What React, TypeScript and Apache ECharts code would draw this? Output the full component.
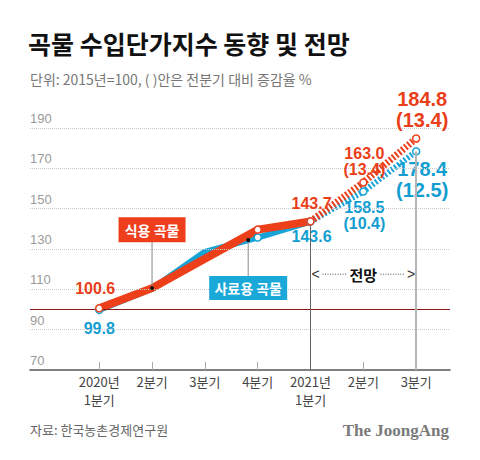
import { useEffect, useRef } from 'react';
import * as echarts from 'echarts';

const categories = ['2020년\n1분기', '2분기', '3분기', '4분기', '2021년\n1분기', '2분기', '3분기'];
const foodValues = [100.6, 110.6, 125.2, 139.6, 143.7, 163.0, 184.8];
const feedValues = [99.8, 110.3, 128.6, 135.7, 143.6, 158.5, 178.4];
const foodChange: (number | null)[] = [null, null, null, null, null, 13.4, 13.4];
const feedChange: (number | null)[] = [null, null, null, null, null, 10.4, 12.5];
const yTicks = [70, 90, 110, 130, 150, 170, 190];
const baseLine = 100;
const forecastStart = 4;
const markerIdx = [0, 3, 4, 5, 6];
const labelIdx = [0, 4, 5, 6];

const RED = '#ec3f1a';
const BLUE = '#17a4d6';
const NUM_FONT = "'Liberation Sans', Arial, sans-serif";
const KR_FONT = "'Noto Sans CJK KR', 'Noto Sans', sans-serif";

const foodOffsets: Record<number, number[]> = { 0: [-4, -20], 4: [1, -18], 5: [1, -21], 6: [6, -29] };
const feedOffsets: Record<number, number[]> = { 0: [0, 19], 4: [1, 15], 5: [1, 24], 6: [6, 28] };

function pts(vals: number[], from: number, to: number) {
  const out: number[][] = [];
  for (let i = from; i <= to; i++) out.push([i, vals[i]]);
  return out;
}

function markerData(vals: number[], change: (number | null)[], offsets: Record<number, number[]>) {
  return markerIdx.map((i) => {
    const c = change[i];
    const big = i === 6;
    return {
      value: [i, vals[i]],
      label: {
        show: labelIdx.includes(i),
        formatter: vals[i].toFixed(1) + (c != null ? '\n(' + c.toFixed(1) + ')' : ''),
        offset: offsets[i] || [0, 0],
        fontSize: big ? 20 : 16,
        lineHeight: big ? 21 : 16,
      },
    };
  });
}

export default function App() {
  const ref = useRef<HTMLDivElement>(null);
  useEffect(() => {
    const chart = echarts.init(ref.current!, null, { renderer: 'svg' });
    const last = categories.length - 1;
    const option: any = {
      animation: false,
      grid: { left: 30, right: 30, top: 128, bottom: 90 },
      xAxis: {
        type: 'value',
        min: -1.31,
        max: 6.64,
        splitLine: { show: false },
        axisLine: { show: true, lineStyle: { color: '#555', width: 1.5 } },
        axisTick: {
          show: true,
          customValues: categories.map((_, i) => i),
          inside: true,
          length: 8,
          lineStyle: { color: '#aaa', width: 1 },
        },
        axisLabel: {
          customValues: categories.map((_, i) => i),
          formatter: (v: number) => categories[Math.round(v)] ?? '',
          fontSize: 13,
          lineHeight: 18,
          color: '#444',
          fontFamily: KR_FONT,
          margin: 2,
        },
      },
      yAxis: {
        type: 'value',
        min: yTicks[0],
        max: yTicks[yTicks.length - 1],
        axisLine: { show: false },
        axisTick: { show: false },
        splitLine: { show: false },
        axisLabel: {
          customValues: yTicks,
          inside: true,
          margin: 0,
          align: 'left',
          verticalAlign: 'bottom',
          padding: [0, 0, 3, 0],
          fontSize: 13,
          color: '#9a9a9a',
          fontFamily: NUM_FONT,
        },
      },
      series: [
        {
          type: 'line',
          data: [],
          z: 1,
          silent: true,
          markLine: {
            silent: true,
            symbol: 'none',
            label: { show: false },
            animation: false,
            data: [
              ...yTicks.slice(1).map((v) => ({
                yAxis: v,
                lineStyle: { type: 'dotted', color: '#c8c8c8', width: 1 },
              })),
              { yAxis: baseLine, lineStyle: { type: 'solid', color: '#8b1a1a', width: 1.2 } },
              [
                { coord: [forecastStart, yTicks[0]], lineStyle: { type: 'solid', color: '#666', width: 1 } },
                { coord: [forecastStart, feedValues[forecastStart]] },
              ],
              [
                { coord: [last, yTicks[0]], lineStyle: { type: 'solid', color: '#b5b5b5', width: 2 } },
                { coord: [last, feedValues[last]] },
              ],
            ],
          },
        },
        {
          name: '사료용 곡물',
          type: 'line',
          data: pts(feedValues, 0, forecastStart),
          showSymbol: false,
          z: 2,
          lineStyle: { color: BLUE, width: 6, opacity: 1 },
        },
        {
          name: '식용 곡물',
          type: 'line',
          data: pts(foodValues, 0, forecastStart),
          showSymbol: false,
          z: 3,
          lineStyle: { color: RED, width: 8, opacity: 1 },
        },
        {
          type: 'line',
          data: pts(feedValues, forecastStart, last),
          showSymbol: false,
          z: 2,
          lineStyle: { color: BLUE, width: 6, type: [2, 2], opacity: 1 },
        },
        {
          type: 'line',
          data: pts(foodValues, forecastStart, last),
          showSymbol: false,
          z: 3,
          lineStyle: { color: RED, width: 7, type: [2, 2], opacity: 1 },
        },
        {
          type: 'scatter',
          z: 4,
          symbol: 'circle',
          symbolSize: 7,
          itemStyle: { color: '#fff', borderColor: BLUE, borderWidth: 1.5, opacity: 1 },
          label: { show: true, position: 'inside', color: '#139ed2', fontWeight: 'bold', fontFamily: NUM_FONT, opacity: 1 },
          data: markerData(feedValues, feedChange, feedOffsets),
        },
        {
          type: 'scatter',
          z: 5,
          symbol: 'circle',
          symbolSize: 7,
          itemStyle: { color: '#fff', borderColor: RED, borderWidth: 1.5, opacity: 1 },
          label: { show: true, position: 'inside', color: '#e93e18', fontWeight: 'bold', fontFamily: NUM_FONT, opacity: 1 },
          data: markerData(foodValues, foodChange, foodOffsets),
        },
      ],
    };
    chart.setOption(option);

    const px = (x: number, y: number) => chart.convertToPixel({ gridIndex: 0 }, [x, y]) as number[];

    // annotation anchors (data coordinates)
    const foodTagIdx = 1;
    const foodTag = px(foodTagIdx, 139.5);
    const foodPt = px(foodTagIdx, foodValues[foodTagIdx]);
    const feedFrac = 0.82;
    const feedX = 2 + feedFrac;
    const feedY = feedValues[2] + feedFrac * (feedValues[3] - feedValues[2]);
    const feedPt = px(feedX, feedY);
    const feedTag = px(feedX, 110.6);
    const fcL = px(forecastStart, 117.5);
    const fcR = px(last, 117.5);
    const fcMid = (fcL[0] + fcR[0]) / 2;

    const graphic: any[] = [
      {
        type: 'text', left: 28, top: 30,
        style: { text: '곡물 수입단가지수 동향 및 전망', font: `bold 25px ${KR_FONT}`, fill: '#111' },
      },
      {
        type: 'text', left: 30, top: 72,
        style: { text: '단위: 2015년=100, ( )안은 전분기 대비 증감율 %', font: `14px ${KR_FONT}`, fill: '#777' },
      },
      {
        type: 'text', left: 30, top: 423,
        style: { text: '자료: 한국농촌경제연구원', font: `13px ${KR_FONT}`, fill: '#666' },
      },
      {
        type: 'text', right: 31, top: 422,
        style: { text: 'The JoongAng', font: `bold 17px 'Liberation Serif', 'DejaVu Serif', serif`, fill: '#7a7a7a' },
      },
      // food tag
      {
        type: 'line', z: 10,
        shape: { x1: foodTag[0], y1: foodTag[1] + 12, x2: foodPt[0], y2: foodPt[1] },
        style: { stroke: '#888', lineWidth: 1 },
      },
      { type: 'circle', z: 11, shape: { cx: foodPt[0], cy: foodPt[1], r: 2 }, style: { fill: '#111' } },
      {
        type: 'rect', z: 10,
        shape: { x: foodTag[0] - 33.5, y: foodTag[1] - 12.5, width: 67, height: 25 },
        style: { fill: '#ef3e1c' },
      },
      {
        type: 'text', z: 11, x: foodTag[0], y: foodTag[1],
        style: { text: '식용 곡물', font: `bold 14px ${KR_FONT}`, fill: '#fff', align: 'center', verticalAlign: 'middle' },
      },
      // feed tag
      {
        type: 'line', z: 10,
        shape: { x1: feedPt[0], y1: feedPt[1], x2: feedTag[0], y2: feedTag[1] - 12 },
        style: { stroke: '#888', lineWidth: 1 },
      },
      { type: 'circle', z: 11, shape: { cx: feedPt[0], cy: feedPt[1], r: 2 }, style: { fill: '#111' } },
      {
        type: 'rect', z: 10,
        shape: { x: feedTag[0] - 39, y: feedTag[1] - 12, width: 78, height: 24 },
        style: { fill: '#1aa8d8' },
      },
      {
        type: 'text', z: 11, x: feedTag[0], y: feedTag[1],
        style: { text: '사료용 곡물', font: `bold 14px ${KR_FONT}`, fill: '#fff', align: 'center', verticalAlign: 'middle' },
      },
      // forecast bracket
      {
        type: 'text', z: 10, x: fcL[0] + 1, y: fcL[1],
        style: { text: '<', font: `14px ${NUM_FONT}`, fill: '#333', align: 'left', verticalAlign: 'middle' },
      },
      {
        type: 'text', z: 10, x: fcR[0] - 1, y: fcR[1],
        style: { text: '>', font: `14px ${NUM_FONT}`, fill: '#333', align: 'right', verticalAlign: 'middle' },
      },
      {
        type: 'line', z: 10,
        shape: { x1: fcL[0] + 12, y1: fcL[1], x2: fcMid - 17, y2: fcL[1] },
        style: { stroke: '#555', lineWidth: 1, lineDash: [1, 1.5] },
      },
      {
        type: 'line', z: 10,
        shape: { x1: fcMid + 17, y1: fcR[1], x2: fcR[0] - 11, y2: fcR[1] },
        style: { stroke: '#555', lineWidth: 1, lineDash: [1, 1.5] },
      },
      {
        type: 'text', z: 10, x: fcMid, y: fcL[1],
        style: { text: '전망', font: `bold 15px ${KR_FONT}`, fill: '#111', align: 'center', verticalAlign: 'middle' },
      },
    ];
    chart.setOption({ graphic });
    return () => chart.dispose();
  }, []);
  return <div ref={ref} style={{ position: 'absolute', left: 0, top: 0, width: 480, height: 460 }} />;
}
